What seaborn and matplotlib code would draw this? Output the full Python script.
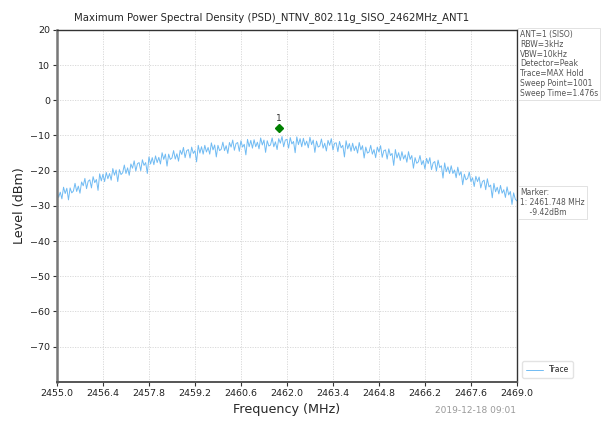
import numpy as np
import pandas as pd
import seaborn as sns
import matplotlib.pyplot as plt

# sweep: 2455.0 .. 2469.0 MHz, one reading every 0.05 MHz
freq = np.round(np.linspace(2455.0, 2469.0, 281), 2)
level = [
    -25.8, -27.6, -26.1, -28.0, -24.7, -26.5, -25.0, -28.3, -24.9, -26.3,
    -25.8, -23.6, -25.9, -24.4, -26.4, -23.2, -24.3, -22.2, -25.1, -23.0,
    -22.6, -24.9, -21.7, -23.4, -22.5, -25.6, -20.9, -22.9, -21.0, -23.1,
    -20.5, -22.3, -20.8, -22.7, -19.4, -21.3, -19.8, -23.1, -19.7, -21.1,
    -20.6, -18.4, -20.8, -19.2, -21.3, -18.1, -19.3, -17.2, -20.1, -18.0,
    -17.7, -20.0, -16.9, -18.5, -17.7, -20.8, -16.1, -18.1, -16.3, -18.3,
    -15.8, -17.7, -16.2, -18.1, -14.9, -16.8, -15.3, -18.7, -15.3, -16.8,
    -16.4, -14.3, -16.7, -15.2, -17.3, -14.2, -15.4, -13.4, -16.3, -14.3,
    -14.0, -16.4, -13.3, -15.1, -14.3, -17.5, -12.8, -15.0, -13.2, -15.3,
    -12.8, -14.7, -13.4, -15.3, -12.1, -14.1, -12.7, -16.1, -12.8, -14.3,
    -13.9, -11.9, -14.3, -12.9, -15.1, -12.0, -13.3, -11.3, -14.2, -12.3,
    -12.0, -14.5, -11.5, -13.3, -12.5, -15.5, -11.1, -13.2, -11.4, -13.6,
    -11.2, -13.2, -11.9, -13.8, -10.7, -12.7, -11.3, -14.8, -11.5, -13.0,
    -12.7, -10.7, -13.2, -11.8, -14.0, -10.9, -12.2, -10.3, -13.2, -11.3,
    -11.1, -13.6, -10.6, -12.4, -11.7, -14.9, -10.4, -12.6, -10.9, -13.2,
    -10.8, -12.8, -11.6, -13.5, -10.5, -12.6, -11.3, -14.8, -11.6, -13.3,
    -13.0, -11.0, -13.6, -12.2, -14.4, -11.4, -12.8, -10.9, -14.1, -12.2,
    -12.1, -14.6, -11.7, -13.5, -12.8, -16.1, -11.5, -13.8, -12.3, -14.5,
    -12.2, -14.3, -13.0, -15.0, -12.0, -14.1, -12.9, -16.4, -13.3, -15.0,
    -14.7, -12.8, -15.3, -14.0, -16.3, -13.3, -14.7, -12.9, -16.2, -14.3,
    -14.1, -16.7, -13.8, -15.7, -15.1, -18.5, -14.0, -16.4, -14.9, -17.1,
    -14.6, -16.7, -15.5, -17.6, -14.6, -16.8, -15.7, -19.3, -16.3, -17.9,
    -17.5, -15.7, -18.3, -17.1, -19.5, -16.5, -18.0, -16.3, -19.7, -17.8,
    -17.4, -20.1, -17.0, -19.1, -18.6, -22.1, -17.8, -20.3, -18.9, -20.8,
    -18.6, -20.8, -19.8, -22.0, -19.0, -21.3, -20.3, -24.0, -21.0, -22.6,
    -22.2, -20.4, -23.1, -22.0, -24.5, -21.6, -23.1, -21.8, -24.9, -23.1,
    -22.7, -25.4, -22.3, -24.6, -24.1, -27.7, -23.6, -26.0, -24.7, -26.6,
    -24.2, -26.4, -25.4, -27.6, -24.6, -26.9, -25.9, -29.6, -26.3, -28.1,
    -28.6,
]
marker_freq = 2461.748
marker_level = -8.0
marker_text = '-9.42dBm'
xticks = [2455.0, 2456.4, 2457.8, 2459.2, 2460.6, 2462.0, 2463.4, 2464.8, 2466.2, 2467.6, 2469.0]
yticks = [20, 10, 0, -10, -20, -30, -40, -50, -60, -70]

df = pd.DataFrame({'freq': freq, 'level': level})

sns.set_style('whitegrid')
fig = plt.figure(figsize=(6.06, 4.21), dpi=100)
ax = fig.add_axes([0.094, 0.093, 0.759, 0.836])

sns.lineplot(data=df, x='freq', y='level', ax=ax, color='#70bbf3', linewidth=0.7, label='Trace')
ax.plot([marker_freq], [marker_level], marker='D', color='green', markersize=4.5)
ax.text(marker_freq, marker_level + 1.6, '1', ha='center', va='bottom', fontsize=6.5, color='#333333')

ax.set_xlim(2455.0, 2469.0)
ax.set_ylim(-80, 20)
ax.set_xticks(xticks)
ax.set_xticklabels(['%.1f' % t for t in xticks])
ax.set_yticks(yticks)
ax.tick_params(labelsize=6.8, length=3, pad=2, color='#333333', labelcolor='#222222', left=True, bottom=True)
ax.grid(color='#d5d5d5', linewidth=0.6, linestyle=(0, (1.5, 1.5)))
for s in ax.spines.values():
    s.set_color('#333333')
    s.set_linewidth(1.0)
ax.spines['left'].set_color('#777777')
ax.spines['left'].set_linewidth(1.8)
ax.spines['bottom'].set_color('#555555')
ax.spines['bottom'].set_linewidth(1.4)

ax.set_title('Maximum Power Spectral Density (PSD)_NTNV_802.11g_SISO_2462MHz_ANT1', fontsize=7.3, x=0.467, pad=7)
ax.set_xlabel('Frequency (MHz)', fontsize=9.2, labelpad=4)
ax.set_ylabel('Level (dBm)', fontsize=9.2, labelpad=3)

box = dict(boxstyle='square,pad=0.3', facecolor='white', edgecolor='#dddddd', linewidth=0.6)
fig.text(0.858, 0.928, 'ANT=1 (SISO)\nRBW=3kHz\nVBW=10kHz\nDetector=Peak\nTrace=MAX Hold\nSweep Point=1001\nSweep Time=1.476s',
         fontsize=5.5, color='#555555', va='top', ha='left', linespacing=1.1, bbox=box)
fig.text(0.858, 0.553, 'Marker:\n1: %.3f MHz\n    %s' % (marker_freq, marker_text),
         fontsize=5.5, color='#555555', va='top', ha='left', linespacing=1.1, bbox=box)

ax.legend(loc='lower left', bbox_to_anchor=(1.003, 0.0), fontsize=5.5, frameon=True,
          edgecolor='#dddddd', handlelength=2.2, borderpad=0.5)
fig.text(0.785, 0.02, '2019-12-18 09:01', fontsize=6.5, color='#999999', ha='center')

fig.savefig('out.png', dpi=100)
